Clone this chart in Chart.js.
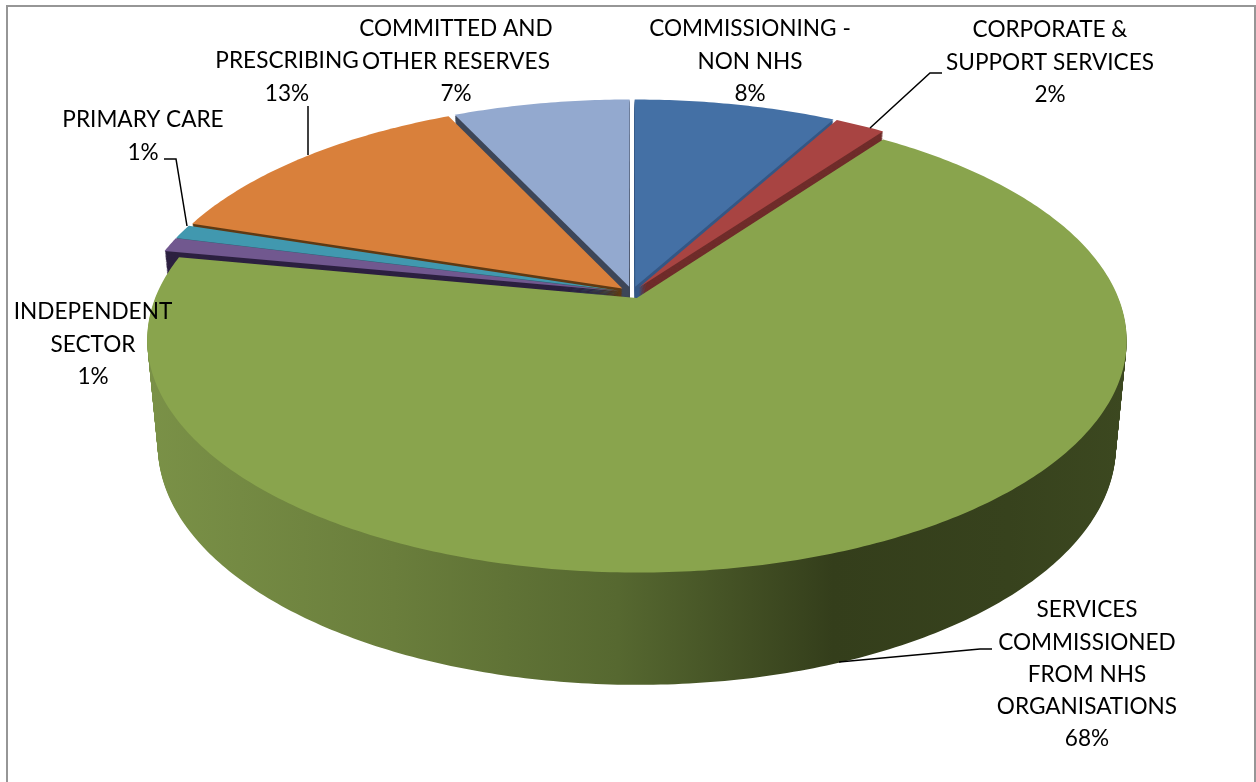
<!DOCTYPE html>
<html>
<head>
<meta charset="utf-8">
<title>Expenditure split</title>
<script src="https://cdn.jsdelivr.net/npm/chart.js@4"></script>
<style>
    html, body { margin: 0; background: #fff; overflow: hidden; }
    #frame { position: absolute; left: 6px; top: 5px; width: 1246px; height: 800px; border: 2px solid #969696; }
    #grafico { position: absolute; left: 0; top: 0; }
</style>
</head>
<body>
<div id="frame"></div>
<canvas id="grafico" width="1256" height="782"></canvas>
<script>
const categories = [
    'COMMISSIONING - NON NHS',
    'CORPORATE & SUPPORT SERVICES',
    'SERVICES COMMISSIONED FROM NHS ORGANISATIONS',
    'INDEPENDENT SECTOR',
    'PRIMARY CARE',
    'PRESCRIBING',
    'COMMITTED AND OTHER RESERVES'
];
const values = [8, 2, 68, 1, 1, 13, 7];

const topColors = ['#4470A5', '#A84442', '#89A44D', '#71588F', '#4198AF', '#D9803B', '#93A9CF'];
const wallColors = ['#345785', '#6F2C2A', null, '#2C2040', '#2A6373', '#5F3A14', '#3D4658'];

// wrapped label text, one entry per category
const labelLines = [
    ['COMMISSIONING -', 'NON NHS'],
    ['CORPORATE &', 'SUPPORT SERVICES'],
    ['SERVICES', 'COMMISSIONED', 'FROM NHS', 'ORGANISATIONS'],
    ['INDEPENDENT', 'SECTOR'],
    ['PRIMARY CARE'],
    ['PRESCRIBING'],
    ['COMMITTED AND', 'OTHER RESERVES']
];
// centre x and first baseline middle of each label
const labelPos = [[750, 29], [1050, 30], [1087, 610], [93, 312], [143, 120], [287, 61], [456, 29]];
const leaders = [
    null,
    [[870, 128], [930, 73], [942, 73]],
    [[839, 662], [980, 649], [992, 649]],
    null,
    [[164, 159], [176, 159], [187, 226]],
    [[308, 106], [308, 155]],
    null
];

// perspective of the tilted disc: top face and bottom face of the cylinder
const CX = 632;
const PERSP = 0.18;
const TOP = { r: 479.5, s: 222.8, y0: 292.5 };
const BOTTOM = { r: 469, s: 229, y0: 397 };
const EXPLODE = 0.027;
const STEPS = 90;

function project(u, v, t) {
    const r = TOP.r + (BOTTOM.r - TOP.r) * t;
    const s = TOP.s + (BOTTOM.s - TOP.s) * t;
    const y0 = TOP.y0 + (BOTTOM.y0 - TOP.y0) * t;
    const w = 1 - PERSP * v;
    return [CX + r * u / w, y0 + s * v / w];
}

// traces one slice at height t, using the angles Chart.js worked out for the arc
function tracarFatia(ctx, arc, t) {
    const mid = (arc.startAngle + arc.endAngle) / 2;
    const du = Math.cos(mid) * EXPLODE;
    const dv = Math.sin(mid) * EXPLODE;
    ctx.beginPath();
    const apex = project(du, dv, t);
    ctx.moveTo(apex[0], apex[1]);
    const n = Math.max(4, Math.ceil((arc.endAngle - arc.startAngle) * 80));
    for (let i = 0; i <= n; i++) {
        const a = arc.startAngle + (arc.endAngle - arc.startAngle) * i / n;
        const p = project(Math.cos(a) + du, Math.sin(a) + dv, t);
        ctx.lineTo(p[0], p[1]);
    }
    ctx.closePath();
}

function gradienteParede(ctx) {
    const g = ctx.createLinearGradient(150, 0, 1125, 0);
    g.addColorStop(0, '#7A9147');
    g.addColorStop(0.25, '#6A7E3C');
    g.addColorStop(0.48, '#566830');
    g.addColorStop(0.7, '#343E1B');
    g.addColorStop(0.88, '#37421D');
    g.addColorStop(1, '#3C4820');
    return g;
}

const pizza3d = {
    id: 'pizza3d',
    beforeDatasetDraw(chart, args) {
        const ctx = chart.ctx;
        const arcs = args.meta.data;
        // back slices first so the nearer ones cover them
        const ordem = arcs.map((_, i) => i).sort((a, b) => {
            const ma = (arcs[a].startAngle + arcs[a].endAngle) / 2;
            const mb = (arcs[b].startAngle + arcs[b].endAngle) / 2;
            return Math.sin(ma) - Math.sin(mb);
        });
        ctx.save();
        ordem.forEach(i => {
            ctx.fillStyle = wallColors[i] || gradienteParede(ctx);
            for (let s = STEPS; s > 0; s--) {
                tracarFatia(ctx, arcs[i], s / STEPS);
                ctx.fill();
            }
            ctx.fillStyle = topColors[i];
            tracarFatia(ctx, arcs[i], 0);
            ctx.fill();
        });
        ctx.restore();
        return false; // the flat arcs are replaced by the ones above
    },
    afterDatasetsDraw(chart) {
        const ctx = chart.ctx;
        ctx.save();
        ctx.strokeStyle = '#000';
        ctx.lineWidth = 1.5;
        leaders.forEach(linha => {
            if (!linha) return;
            ctx.beginPath();
            linha.forEach((p, i) => i ? ctx.lineTo(p[0], p[1]) : ctx.moveTo(p[0], p[1]));
            ctx.stroke();
        });
        ctx.fillStyle = '#000';
        ctx.font = '22.6px Lato';
        ctx.textAlign = 'center';
        ctx.textBaseline = 'middle';
        labelLines.forEach((linhas, i) => {
            const todas = linhas.concat(values[i] + '%');
            todas.forEach((txt, j) => ctx.fillText(txt, labelPos[i][0], labelPos[i][1] + j * 32.3));
        });
        ctx.restore();
    }
};

window.onload = function() {
    new Chart(document.getElementById('grafico').getContext('2d'), {
        type: 'pie',
        data: {
            labels: categories,
            datasets: [{ data: values, backgroundColor: topColors, borderWidth: 0 }]
        },
        options: {
            responsive: false,
            animation: false,
            plugins: { legend: { display: false }, tooltip: { enabled: false } }
        },
        plugins: [pizza3d]
    });
};
</script>
</body>
</html>
